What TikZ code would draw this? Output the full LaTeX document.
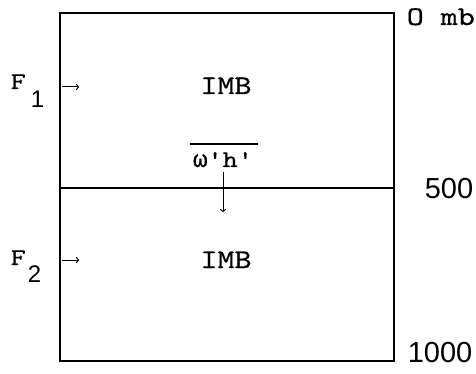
\documentclass[tikz,border=0pt]{standalone}
\usepackage{fontspec}
\setmainfont{Liberation Sans}
\newfontfamily\typew[FakeStretch=1.2,FakeBold=0.6]{lmmono10-regular.otf}
\newfontfamily\greekmono[FakeBold=0.6]{Liberation Mono}
\usetikzlibrary{arrows.meta}
\begin{document}
\begin{tikzpicture}[x=1pt,y=-1pt,line width=1.6pt,
  tt/.style={inner sep=0pt,font=\typew\fontsize{27}{30}\selectfont},
  ttsmall/.style={inner sep=0pt,font=\typew\fontsize{24}{27}\selectfont},
  ttmid/.style={inner sep=0pt,font=\typew\fontsize{24}{27}\selectfont},
  num/.style={inner sep=0pt,font=\fontsize{29}{32}\selectfont},
  sub/.style={inner sep=0pt,font=\fontsize{24}{27}\selectfont},
  flux/.style={line width=1pt,-{To[length=3pt,width=6pt]}}]
\useasboundingbox (0,0) rectangle (476,374);
% box
\coordinate (tl) at (60,13);
\coordinate (br) at (394,361);
\coordinate (ml) at (60,188);
\coordinate (mr) at (394,188);
\draw (tl) rectangle (br);
\draw (ml) -- (mr);
% pressure labels
\node[tt,anchor=base west] (p0) at (406,25) {O mb};
\node[num,anchor=base west] (p500) at (424,198) {500};
\node[num,anchor=base west] (p1000) at (407,362) {1000};
% IMB
\node[tt,anchor=base] (imb1) at (226,94) {IMB};
\node[tt,anchor=base] (imb2) at (226,268) {IMB};
% F labels
\node[ttsmall,anchor=base west] (f1) at (10,89) {F};
\node[sub,anchor=base west] (s1) at (30,108) {1};
\node[ttsmall,anchor=base west] (f2) at (10,265) {F};
\node[sub,anchor=base west] (s2) at (27,282) {2};
% flux arrows
\coordinate (a1s) at (62,87);
\coordinate (a1e) at (79,87);
\coordinate (a2s) at (62,260);
\coordinate (a2e) at (79,260);
\draw[flux] (a1s) -- (a1e);
\draw[flux] (a2s) -- (a2e);
% omega'h'
\node[ttmid,anchor=base] (wh) at (223,167) {{\greekmono\fontsize{24}{27}\selectfont ω}'h'};
\coordinate (ol1) at (190,144);
\coordinate (ol2) at (258,144);
\draw[line width=1.3pt] (ol1) -- (ol2);
\coordinate (dn) at (223,212);
\draw[flux] (wh.south -| dn) ++(0,4) -- (dn);
\end{tikzpicture}
\end{document}
